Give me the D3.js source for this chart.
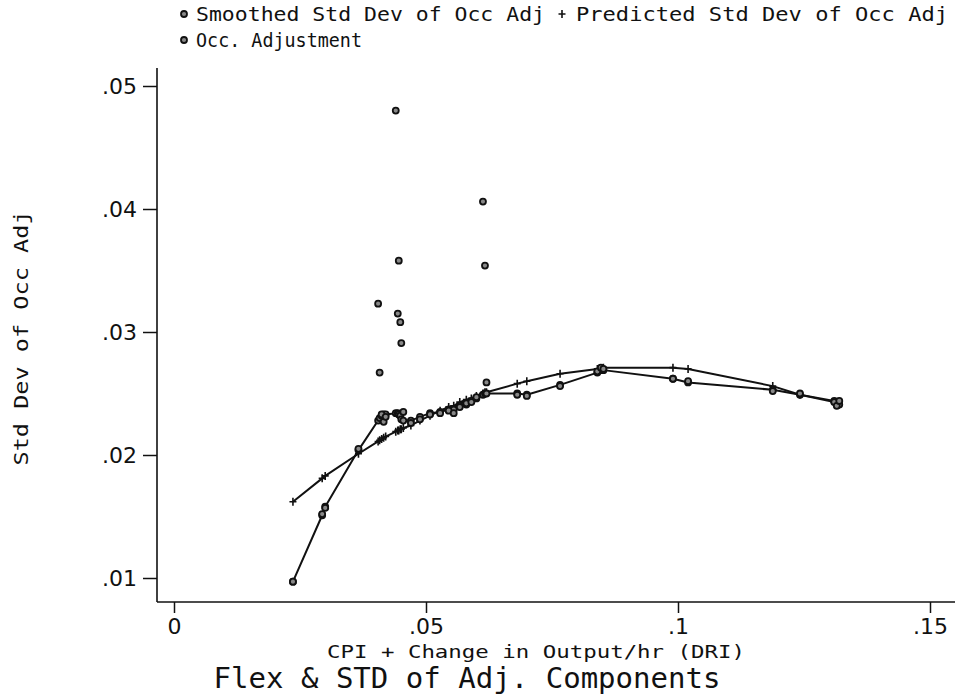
<!DOCTYPE html>
<html><head><meta charset="utf-8">
<script src="https://cdn.jsdelivr.net/npm/d3@7"></script>
<style>body{margin:0;background:#fff}svg{display:block}</style>
</head><body><svg id="c" width="956" height="697"></svg>
<script>
// ---- data ----
const obsX = [0.0236,0.0294,0.0300,0.0366,0.0405,0.0408,0.0412,0.0416,0.0420,0.0440,0.0444,0.0446,0.0449,0.0451,0.0455,0.0470,0.0488,0.0508,0.0528,0.0545,0.0555,0.0567,0.0580,0.0590,0.0600,0.0613,0.0617,0.0620,0.0681,0.0700,0.0766,0.0840,0.0847,0.0852,0.0990,0.1020,0.1188,0.1242,0.1310,0.1315,0.1320];
const smoothed = [0.0097,0.0151,0.0158,0.0204,0.0228,0.0230,0.0232,0.0233,0.0233,0.0234,0.0234,0.0233,0.0232,0.0229,0.0228,0.0228,0.0231,0.0234,0.0235,0.0237,0.0237,0.0240,0.0241,0.0244,0.0246,0.0249,0.0250,0.0250,0.0250,0.0249,0.0257,0.0267,0.0269,0.0269,0.0262,0.0259,0.0253,0.0249,0.0244,0.0242,0.0241];
const predicted = [0.0162,0.0181,0.0183,0.0201,0.0211,0.0212,0.0213,0.0214,0.0215,0.0219,0.0220,0.0220,0.0221,0.0221,0.0222,0.0224,0.0228,0.0232,0.0236,0.0239,0.0240,0.0243,0.0245,0.0246,0.0248,0.0250,0.0251,0.0251,0.0258,0.0260,0.0266,0.0270,0.0270,0.0271,0.0271,0.0270,0.0256,0.0249,0.0243,0.0242,0.0241];
const occAdj = [0.0097,0.0152,0.0157,0.0205,0.0323,0.0267,0.0233,0.0227,0.0231,0.0480,0.0315,0.0358,0.0308,0.0291,0.0235,0.0226,0.0229,0.0233,0.0234,0.0236,0.0234,0.0239,0.0242,0.0243,0.0247,0.0406,0.0354,0.0259,0.0249,0.0248,0.0256,0.0268,0.0271,0.0270,0.0262,0.0260,0.0252,0.0250,0.0243,0.0240,0.0244];
const xTicks = [0, 0.05, 0.1, 0.15];
const xTickLabels = ["0", ".05", ".1", ".15"];
const yTicks = [0.01, 0.02, 0.03, 0.04, 0.05];
const yTickLabels = [".01", ".02", ".03", ".04", ".05"];
const legendLabels = ["Smoothed Std Dev of Occ Adj", "Predicted Std Dev of Occ Adj", "Occ. Adjustment"];
const xTitle = "CPI + Change in Output/hr (DRI)";
const yTitle = "Std Dev of Occ Adj";
const mainTitle = "Flex & STD of Adj. Components";

// ---- chart ----
const svg = d3.select("#c");
const ink = "#111";
const mono = "'DejaVu Sans Mono', 'Liberation Mono', monospace";
const sans = "'DejaVu Sans', 'Liberation Sans', sans-serif";
const x = d3.scaleLinear().domain([0, 0.15]).range([174, 930]);
const y = d3.scaleLinear().domain([0.01, 0.05]).range([578, 86]);
const xLeft = 157, xRight = 955, yTop = 68, yBottom = 602;

svg.append("rect").attr("width", 956).attr("height", 697).attr("fill", "#fff");

// axes lines
svg.append("line").attr("x1", xLeft).attr("x2", xLeft).attr("y1", yTop).attr("y2", yBottom)
  .attr("stroke", ink).attr("stroke-width", 1.6);
svg.append("line").attr("x1", xLeft).attr("x2", xRight).attr("y1", yBottom).attr("y2", yBottom)
  .attr("stroke", ink).attr("stroke-width", 1.6);

const yAxis = svg.append("g").attr("transform", `translate(${xLeft},0)`)
  .call(d3.axisLeft(y).tickValues(yTicks).tickFormat((d, i) => yTickLabels[i]).tickSize(14).tickPadding(6));
const xAxis = svg.append("g").attr("transform", `translate(0,${yBottom})`)
  .call(d3.axisBottom(x).tickValues(xTicks).tickFormat((d, i) => xTickLabels[i]).tickSize(11).tickPadding(5));
[yAxis, xAxis].forEach(g => {
  g.select(".domain").remove();
  g.selectAll(".tick line").attr("stroke", ink).attr("stroke-width", 1.5);
  g.selectAll(".tick text").attr("fill", ink).attr("font-family", sans).attr("font-size", 22);
});

// lines
const lineGen = (vals) => d3.line().x((d, i) => x(obsX[i])).y((d, i) => y(vals[i]));
[smoothed, predicted].forEach(vals => {
  svg.append("path").datum(vals).attr("d", lineGen(vals)).attr("fill", "none")
    .attr("stroke", ink).attr("stroke-width", 2).attr("stroke-linejoin", "round");
});

// markers
const circ = (g, cx, cy) => g.append("circle").attr("cx", cx).attr("cy", cy).attr("r", 3)
  .attr("fill", "#888").attr("stroke", ink).attr("stroke-width", 1.8);
const plus = (g, cx, cy) => g.append("path").attr("d", `M${cx-3.5},${cy}H${cx+3.5}M${cx},${cy-4}V${cy+4}`)
  .attr("stroke", ink).attr("stroke-width", 1.6);
const mk = svg.append("g");
obsX.forEach((xv, i) => { plus(mk, x(xv), y(predicted[i])); });
obsX.forEach((xv, i) => { circ(mk, x(xv), y(smoothed[i])); });
obsX.forEach((xv, i) => { circ(mk, x(xv), y(occAdj[i])); });

// legend
const lg = svg.append("g");
circ(lg, 184, 14);
plus(lg, 562, 14);
circ(lg, 184, 40);
const legText = (t, tx, ty, len) => lg.append("text").attr("x", tx).attr("y", ty).text(t)
  .attr("font-family", mono).attr("font-size", 20).attr("fill", ink)
  .attr("textLength", len).attr("lengthAdjust", "spacingAndGlyphs");
legText(legendLabels[0], 196, 21, 349);
legText(legendLabels[1], 576, 21, 372);
legText(legendLabels[2], 196, 47, 166);

// titles
svg.append("text").attr("transform", "translate(28,338) rotate(-90)").attr("text-anchor", "middle")
  .attr("font-family", mono).attr("font-size", 20).attr("fill", ink)
  .attr("textLength", 255).attr("lengthAdjust", "spacingAndGlyphs").text(yTitle);
svg.append("text").attr("x", 536).attr("y", 658).attr("text-anchor", "middle")
  .attr("font-family", mono).attr("font-size", 18).attr("fill", ink)
  .attr("textLength", 418).attr("lengthAdjust", "spacingAndGlyphs").text(xTitle);
svg.append("text").attr("x", 467).attr("y", 688).attr("text-anchor", "middle")
  .attr("font-family", mono).attr("font-size", 28).attr("fill", ink)
  .attr("textLength", 507).attr("lengthAdjust", "spacingAndGlyphs").text(mainTitle);
</script>
</body></html>
